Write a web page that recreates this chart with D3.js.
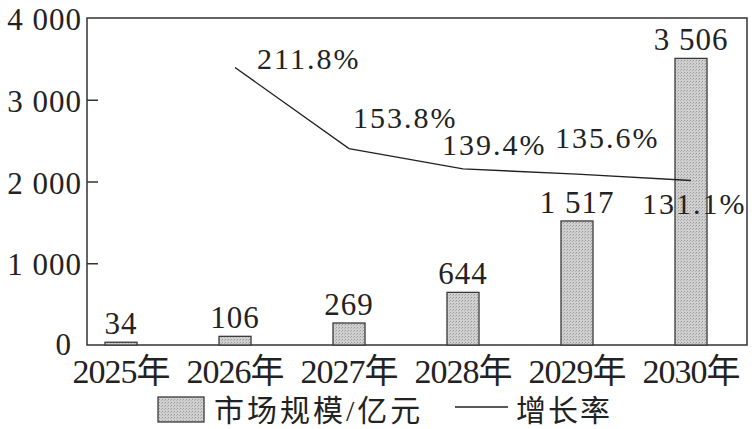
<!DOCTYPE html>
<html>
<head>
<meta charset="utf-8">
<script src="https://cdn.jsdelivr.net/npm/d3@7/dist/d3.min.js"></script>
<style>
  html, body { margin: 0; padding: 0; background: #fff; }
  svg { display: block; }
  text { font-family: "Liberation Serif", "Noto Sans CJK SC", serif; fill: #222; }
</style>
</head>
<body>
<svg id="chart" width="754" height="429"></svg>
<script>
// ---- data ----
const years = ["2025年", "2026年", "2027年", "2028年", "2029年", "2030年"];
const marketSize = [34, 106, 269, 644, 1517, 3506];
const rateYears = ["2026年", "2027年", "2028年", "2029年", "2030年"];
const growthRate = [211.8, 153.8, 139.4, 135.6, 131.1];
const yTicks = [0, 1000, 2000, 3000, 4000];
const legendLabels = ["市场规模/亿元", "增长率"];

// label offsets for growth-rate texts (layout only)
const rateLabelOffsets = [[22, 2], [4, -21], [-21, -14], [-22, -26], [-49, 34]];

const svg = d3.select("#chart");
const mLeft = 87, mRight = 747, mTop = 18, mBottom = 345;

const x = d3.scalePoint().domain(years).range([121, 691]);
const y = d3.scaleLinear().domain([0, 4000]).range([mBottom, mTop]);
const yRate = d3.scaleLinear().domain([0, 250]).range([364, 14]);

const fmt = v => d3.format(",")(v).replace(/,/g, " ");

// pattern for bars
const defs = svg.append("defs");
const pat = defs.append("pattern").attr("id", "dots").attr("patternUnits", "userSpaceOnUse")
  .attr("width", 3).attr("height", 3);
pat.append("rect").attr("width", 3).attr("height", 3).attr("fill", "#d0d0d0");
pat.append("rect").attr("x", 0).attr("y", 0).attr("width", 1).attr("height", 1).attr("fill", "#9a9a9a");
pat.append("rect").attr("x", 2).attr("y", 1).attr("width", 1).attr("height", 1).attr("fill", "#b0b0b0");

// frame
svg.append("rect").attr("x", mLeft).attr("y", mTop).attr("width", mRight - mLeft).attr("height", mBottom - mTop)
  .attr("fill", "none").attr("stroke", "#333").attr("stroke-width", 1.5);

// y axis
const yAxis = d3.axisRight(y).tickValues(yTicks.filter(t => t > 0 && t < 4000)).tickSize(11).tickFormat("");
const ya = svg.append("g").attr("transform", `translate(${mLeft},0)`).call(yAxis);
ya.select(".domain").remove();
ya.selectAll("line").attr("stroke", "#333").attr("stroke-width", 1.5);

svg.append("g").selectAll("text").data(yTicks).join("text")
  .attr("x", d => d === 0 ? 72 : 82).attr("y", d => d === 0 ? y(d) + 10 : y(d) + 12)
  .attr("text-anchor", "end").style("font-size", "31px").style("letter-spacing", "1px")
  .text(d => fmt(d));

// bars
const bw = 32;
svg.append("g").selectAll("rect").data(marketSize).join("rect")
  .attr("x", (d, i) => x(years[i]) - bw / 2).attr("width", bw)
  .attr("y", d => y(d)).attr("height", d => mBottom - y(d))
  .attr("fill", "url(#dots)").attr("stroke", "#3a3a3a").attr("stroke-width", 1.3);

// bar labels
svg.append("g").selectAll("text").data(marketSize).join("text")
  .attr("x", (d, i) => x(years[i])).attr("y", d => y(d) - 8)
  .attr("text-anchor", "middle").style("font-size", "31px").style("letter-spacing", "1px")
  .text(d => fmt(d));

// x labels
svg.append("g").selectAll("text").data(years).join("text")
  .attr("x", d => x(d)).attr("y", 383)
  .attr("text-anchor", "middle").style("font-size", "34px").style("letter-spacing", "-1px")
  .text(d => d);

// growth line
const line = d3.line().x((d, i) => x(rateYears[i])).y(d => yRate(d));
svg.append("path").datum(growthRate).attr("d", line)
  .attr("fill", "none").attr("stroke", "#222").attr("stroke-width", 1.4);

svg.append("g").selectAll("text").data(growthRate).join("text")
  .attr("x", (d, i) => x(rateYears[i]) + rateLabelOffsets[i][0])
  .attr("y", (d, i) => yRate(d) + rateLabelOffsets[i][1])
  .style("font-size", "30px").style("letter-spacing", "2px")
  .text(d => d.toFixed(1) + "%");

// legend
const lg = svg.append("g");
lg.append("rect").attr("x", 158).attr("y", 397).attr("width", 46).attr("height", 25)
  .attr("fill", "url(#dots)").attr("stroke", "#3a3a3a").attr("stroke-width", 1.3);
lg.append("text").attr("x", 214).attr("y", 421)
  .style("font-size", "30px").style("letter-spacing", "3px").text(legendLabels[0]);
lg.append("line").attr("x1", 455).attr("x2", 508).attr("y1", 407).attr("y2", 407)
  .attr("stroke", "#222").attr("stroke-width", 1.5);
lg.append("text").attr("x", 516).attr("y", 421)
  .style("font-size", "30px").style("letter-spacing", "2px").text(legendLabels[1]);
</script>
</body>
</html>
